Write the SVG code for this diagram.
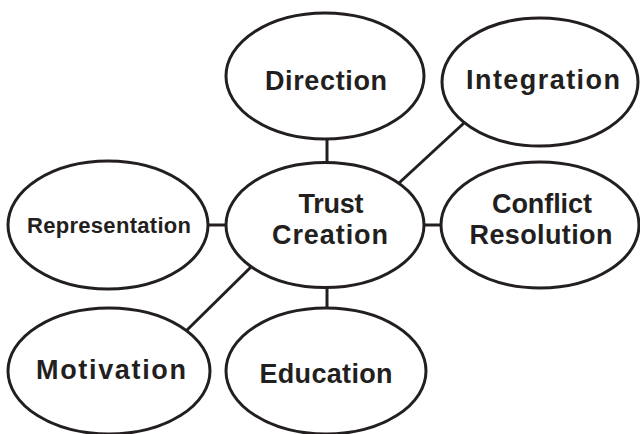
<svg xmlns="http://www.w3.org/2000/svg" width="640" height="434" viewBox="0 0 640 434">
  <style>
    .bubble { fill: #ffffff; stroke: #231f20; stroke-width: 3; }
    .link { stroke: #231f20; stroke-width: 3; fill: none; }
    .label { font-family: "Liberation Sans", Arial, sans-serif; font-weight: bold; font-size: 27px; fill: #231f20; text-anchor: middle; }
    .small { font-size: 22px; }
  </style>
  <rect width="640" height="434" fill="#ffffff"/>

  <!-- connectors from the central bubble -->
  <g id="connectors">
    <line class="link" x1="327" y1="139" x2="327" y2="162"/>
    <line class="link" x1="464" y1="123" x2="399" y2="183"/>
    <line class="link" x1="208" y1="225" x2="226" y2="225"/>
    <line class="link" x1="424" y1="225" x2="442" y2="225"/>
    <line class="link" x1="185" y1="332" x2="251" y2="267"/>
    <line class="link" x1="327" y1="287" x2="327" y2="308"/>
  </g>

  <g id="direction">
    <ellipse class="bubble" cx="325" cy="76" rx="99" ry="63"/>
    <text class="label" x="326" y="90" textLength="122">Direction</text>
  </g>

  <g id="integration">
    <ellipse class="bubble" cx="540" cy="82" rx="98" ry="64"/>
    <text class="label" x="543" y="89" textLength="154">Integration</text>
  </g>

  <g id="trust-creation">
    <ellipse class="bubble" cx="325" cy="225" rx="99" ry="62.5"/>
    <text class="label" x="331" y="213" textLength="65">Trust</text>
    <text class="label" x="330" y="244" textLength="116">Creation</text>
  </g>

  <g id="representation">
    <ellipse class="bubble" cx="108" cy="225" rx="100" ry="64"/>
    <text class="label small" x="109" y="233" textLength="164">Representation</text>
  </g>

  <g id="conflict-resolution">
    <ellipse class="bubble" cx="540" cy="225" rx="99" ry="63"/>
    <text class="label" x="542" y="213" textLength="100">Conflict</text>
    <text class="label" x="541" y="244" textLength="143">Resolution</text>
  </g>

  <g id="motivation">
    <ellipse class="bubble" cx="109" cy="371" rx="101" ry="63"/>
    <text class="label" x="111" y="379" textLength="150">Motivation</text>
  </g>

  <g id="education">
    <ellipse class="bubble" cx="326" cy="371" rx="100" ry="63"/>
    <text class="label" x="326" y="383" textLength="133">Education</text>
  </g>
</svg>
